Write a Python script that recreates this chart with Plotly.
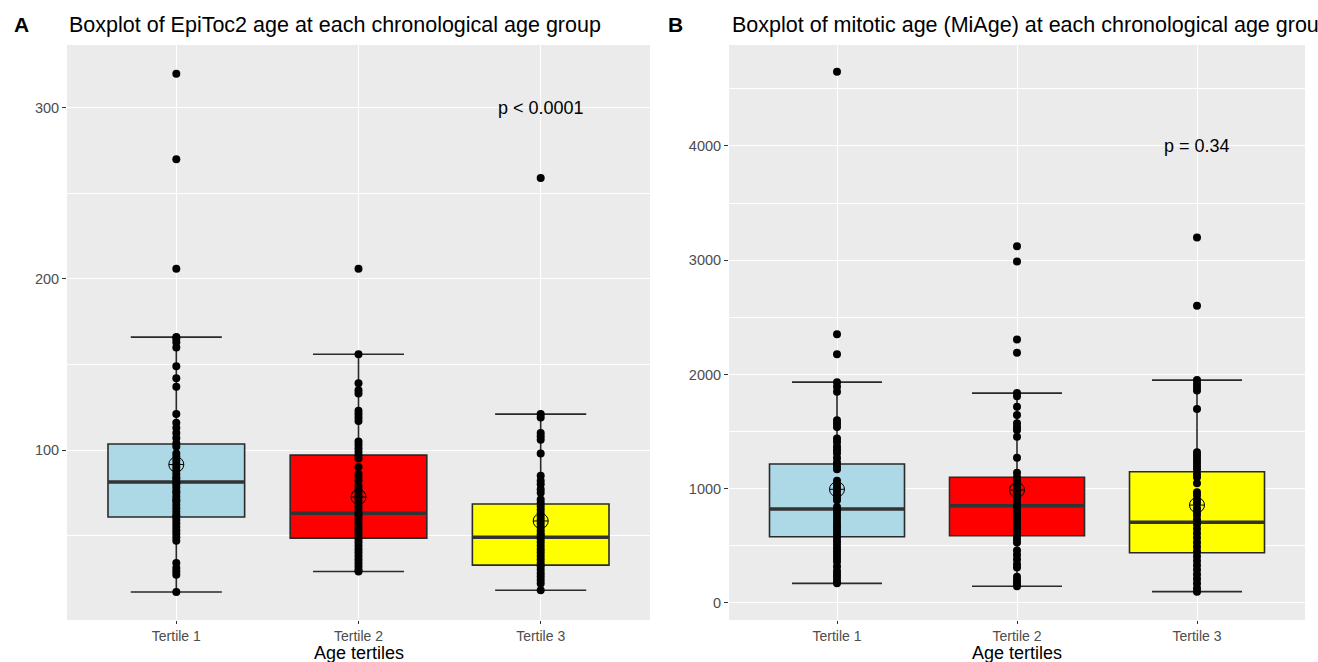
import plotly.graph_objects as go

# ---------------- data ----------------
categories = ["Tertile 1", "Tertile 2", "Tertile 3"]
box_colors = ["#ADD8E6", "#FF0000", "#FFFF00"]

# Panel A: EpiToc2 age, individual points per tertile
epitoc_t1 = [320, 270, 206, 166, 165, 163, 160, 149, 142, 137, 121, 116, 113, 110, 107, 104,
             102, 98, 96, 94, 92, 90, 88, 86, 84, 83, 81, 80, 78, 76, 75, 73, 71, 70, 68, 66,
             64, 62, 61, 59, 57, 55, 53, 51, 49, 47, 34, 31, 29, 27, 17]
epitoc_t2 = [206, 156, 139, 135, 133, 123, 121, 119, 117, 105, 103, 101, 99, 97, 95, 90, 86,
             84, 82, 79, 77, 75, 73, 71, 69, 67, 65, 63, 62, 60, 58, 56, 54, 52, 50, 48, 46,
             44, 42, 40, 38, 36, 34, 32, 30, 29]
epitoc_t3 = [259, 121, 119, 110, 108, 106, 98, 85, 82, 80, 77, 75, 71, 69, 67, 65, 63, 61, 59,
             57, 55, 53, 51, 50, 48, 46, 44, 42, 40, 38, 36, 34, 32, 30, 28, 26, 24, 22, 18]

epitoc_q1 = [60.8, 48.5, 32.7]
epitoc_median = [81.3, 63.0, 49.0]
epitoc_q3 = [103.5, 97.0, 68.4]
epitoc_lower = [17, 29, 18]
epitoc_upper = [166, 156, 121]
epitoc_mean = [91.5, 72.5, 58.5]

# Panel B: MiAge, individual points per tertile
miage_t1 = [4650, 2353, 2178, 1933, 1892, 1849, 1600, 1570, 1540, 1440, 1410, 1370, 1340, 1310,
            1270, 1230, 1200, 1170, 1070, 1040, 1010, 980, 950, 920, 900, 840, 810, 780, 750,
            720, 690, 660, 630, 600, 570, 540, 510, 480, 450, 420, 390, 360, 320, 280, 250,
            220, 190, 172]
miage_t2 = [3123, 2989, 2307, 2190, 1837, 1810, 1718, 1645, 1574, 1540, 1513, 1455, 1271, 1140,
            1100, 1070, 1040, 1010, 980, 950, 920, 890, 860, 830, 800, 770, 740, 710, 680, 650,
            620, 590, 560, 530, 460, 420, 380, 340, 310, 230, 200, 170, 146]
miage_t3 = [3199, 2601, 1951, 1920, 1890, 1860, 1697, 1320, 1290, 1260, 1230, 1200, 1170, 1130,
            1100, 1047, 970, 940, 900, 870, 830, 800, 770, 730, 690, 650, 610, 570, 530, 490,
            450, 410, 370, 330, 290, 250, 210, 170, 130, 99]

miage_q1 = [580, 589, 440]
miage_median = [822, 851, 706]
miage_q3 = [1216, 1100, 1149]
miage_lower = [172, 146, 99]
miage_upper = [1933, 1837, 1951]
miage_mean = [995, 989, 857]

p_text = ["p < 0.0001", "p = 0.34"]
p_y = [300, 4000]
titles = ["Boxplot of EpiToc2 age at each chronological age group",
          "Boxplot of mitotic age (MiAge) at each chronological age group"]
tags = ["A", "B"]
x_title = "Age tertiles"

# ---------------- figure ----------------
FONT = "Liberation Sans, Arial, Helvetica, sans-serif"
BOX_W = 0.75
CAP_W = 0.5
positions = [1, 2, 3]

fig = go.Figure()

panels = [
    dict(points=[epitoc_t1, epitoc_t2, epitoc_t3], q1=epitoc_q1, med=epitoc_median,
         q3=epitoc_q3, lo=epitoc_lower, hi=epitoc_upper, mean=epitoc_mean, xa="x", ya="y"),
    dict(points=[miage_t1, miage_t2, miage_t3], q1=miage_q1, med=miage_median,
         q3=miage_q3, lo=miage_lower, hi=miage_upper, mean=miage_mean, xa="x2", ya="y2"),
]

for p in panels:
    for i, pos in enumerate(positions):
        fig.add_trace(go.Box(
            x=[pos], q1=[p["q1"][i]], median=[p["med"][i]], q3=[p["q3"][i]],
            lowerfence=[p["lo"][i]], upperfence=[p["hi"][i]],
            width=BOX_W, whiskerwidth=CAP_W / BOX_W,
            fillcolor=box_colors[i], line=dict(color="#2a2a2a", width=1.6),
            boxpoints=False, xaxis=p["xa"], yaxis=p["ya"], showlegend=False,
            hoverinfo="skip"))
    # thick median lines
    mx, my = [], []
    for i, pos in enumerate(positions):
        mx += [pos - BOX_W / 2, pos + BOX_W / 2, None]
        my += [p["med"][i], p["med"][i], None]
    fig.add_trace(go.Scatter(x=mx, y=my, mode="lines",
                             line=dict(color="#333333", width=3.5),
                             xaxis=p["xa"], yaxis=p["ya"], showlegend=False,
                             hoverinfo="skip"))
    # points
    for i, pos in enumerate(positions):
        vals = p["points"][i]
        fig.add_trace(go.Scatter(x=[pos] * len(vals), y=vals, mode="markers",
                                 marker=dict(color="black", size=8),
                                 xaxis=p["xa"], yaxis=p["ya"], showlegend=False))
    # means
    fig.add_trace(go.Scatter(x=positions, y=p["mean"], mode="markers",
                             marker=dict(symbol="circle-cross-open", size=15,
                                         color="black", line=dict(width=1, color="black")),
                             xaxis=p["xa"], yaxis=p["ya"], showlegend=False))

W, H = 1318, 662
dom_y = [(H - 620) / H, (H - 45) / H]

axis_common = dict(
    showgrid=True, gridcolor="white", gridwidth=1.2, zeroline=False,
    showline=False, ticks="outside", ticklen=4, tickcolor="#333333", tickwidth=1,
    tickfont=dict(family=FONT, size=14.5, color="#4D4D4D"),
)

xcommon = dict(axis_common, tickvals=positions, ticktext=categories, range=[0.4, 3.6],
               ticklen=3, tickfont=dict(family=FONT, size=14, color="#4D4D4D"))

fig.update_layout(
    width=W, height=H,
    margin=dict(l=0, r=0, t=0, b=0),
    paper_bgcolor="white", plot_bgcolor="#EBEBEB",
    boxmode="overlay",
    font=dict(family=FONT),
    xaxis=dict(xcommon, domain=[67 / W, 650 / W], anchor="y"),
    yaxis=dict(axis_common, domain=dom_y, anchor="x", range=[0.6, 336.8],
               tickvals=[100, 200, 300],
               minor=dict(tickvals=[50, 150, 250], showgrid=True, gridcolor="white",
                          gridwidth=0.6, ticks="")),
    xaxis2=dict(xcommon, domain=[729 / W, 1305 / W], anchor="y2"),
    yaxis2=dict(axis_common, domain=dom_y, anchor="x2", range=[-149, 4884],
                tickvals=[0, 1000, 2000, 3000, 4000],
                minor=dict(tickvals=[500, 1500, 2500, 3500, 4500], showgrid=True,
                           gridcolor="white", gridwidth=0.6, ticks="")),
)

annotations = []
# p-values and x-axis titles
for k, (xa, ya) in enumerate([("x", "y"), ("x2", "y2")]):
    annotations.append(dict(x=3, y=p_y[k], xref=xa, yref=ya, text=p_text[k],
                            showarrow=False, xanchor="center", yanchor="middle",
                            font=dict(family=FONT, size=18, color="black")))
    annotations.append(dict(x=2, y=(H - 653) / H, xref=xa, yref="paper", text=x_title,
                            showarrow=False, xanchor="center", yanchor="middle",
                            font=dict(family=FONT, size=18, color="black")))
# tags and titles
tag_x = [12, 666]
title_x = [67, 730]
for k in range(2):
    annotations.append(dict(x=tag_x[k] / W, y=(H - 25) / H, xref="paper", yref="paper",
                            text="<b>" + tags[k] + "</b>", showarrow=False,
                            xanchor="left", yanchor="middle",
                            font=dict(family=FONT, size=21, color="black")))
    annotations.append(dict(x=title_x[k] / W, y=(H - 25) / H, xref="paper", yref="paper",
                            text=titles[k], showarrow=False,
                            xanchor="left", yanchor="middle",
                            font=dict(family=FONT, size=21.5, color="black")))
fig.update_layout(annotations=annotations)

fig.write_html("out.html")
